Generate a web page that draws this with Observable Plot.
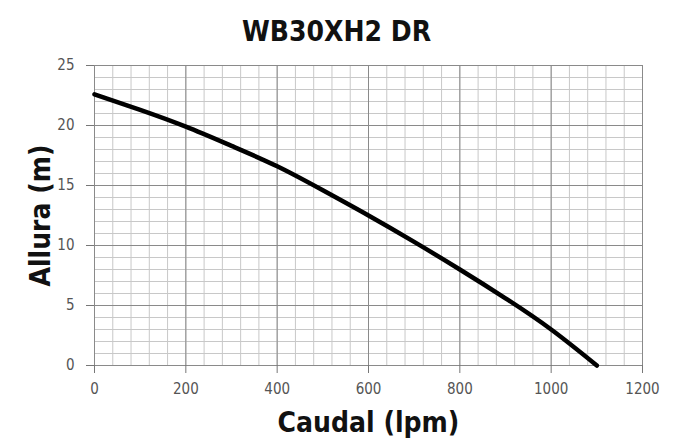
<!DOCTYPE html>
<html><head><meta charset="utf-8">
<script src="https://cdn.jsdelivr.net/npm/d3@7"></script>
<script src="https://cdn.jsdelivr.net/npm/@observablehq/plot@0.6"></script>
<style>
html,body{margin:0;padding:0;background:#fff;}
svg{display:block;}
</style>
</head><body>
<div id="chart"></div>
<script>
const title = "WB30XH2 DR";
const xLabel = "Caudal (lpm)";
const yLabel = "Allura (m)";
const caudal = [0, 100, 200, 300, 400, 500, 600, 700, 800, 900, 1000, 1100];
const altura = [22.6, 21.3, 19.9, 18.3, 16.6, 14.6, 12.5, 10.3, 8.0, 5.6, 3.0, 0];
const xTicks = [0, 200, 400, 600, 800, 1000, 1200];
const yTicks = [0, 5, 10, 15, 20, 25];

const data = caudal.map((c, i) => ({c, h: altura[i]}));
const font = "'Liberation Sans Narrow', 'DejaVu Sans Condensed', 'Arial Narrow', sans-serif";

const chart = Plot.plot({
  width: 676, height: 448,
  marginLeft: 94, marginRight: 34, marginTop: 65, marginBottom: 83,
  style: {fontFamily: font, background: "#fff"},
  x: {domain: [0, 1200]},
  y: {domain: [0, 25]},
  marks: [
    Plot.gridX({interval: 40, stroke: "#c8c8c8", strokeOpacity: 1, strokeWidth: 1}),
    Plot.gridY({interval: 1, stroke: "#c8c8c8", strokeOpacity: 1, strokeWidth: 1}),
    Plot.gridX(xTicks, {stroke: "#8a8a8a", strokeOpacity: 1, strokeWidth: 1}),
    Plot.gridY(yTicks, {stroke: "#8a8a8a", strokeOpacity: 1, strokeWidth: 1}),
    Plot.axisX(xTicks, {tickSize: 8, tickPadding: 10, fontSize: 15, color: "#555", stroke: "#777",
      tickFormat: d => String(d),
      label: xLabel, labelAnchor: "center", labelArrow: "none", labelOffset: 66}),
    Plot.axisY(yTicks, {tickSize: 8, tickPadding: 12, fontSize: 15, color: "#555", stroke: "#777",
      tickFormat: d => String(d),
      label: yLabel, labelAnchor: "center", labelArrow: "none", labelOffset: 64}),
    Plot.line(data, {x: "c", y: "h", curve: "natural", stroke: "#000", strokeWidth: 4.5}),
    Plot.text([title], {frameAnchor: "top", dx: -32, dy: -44, fontSize: 28, fontWeight: "bold", fill: "#111"})
  ]
});
d3.select(chart).selectAll("[aria-label='x-axis label'] text, [aria-label='y-axis label'] text")
  .attr("font-size", 28).attr("font-weight", "bold").attr("fill", "#111");
document.getElementById("chart").appendChild(chart);
</script>
</body></html>
